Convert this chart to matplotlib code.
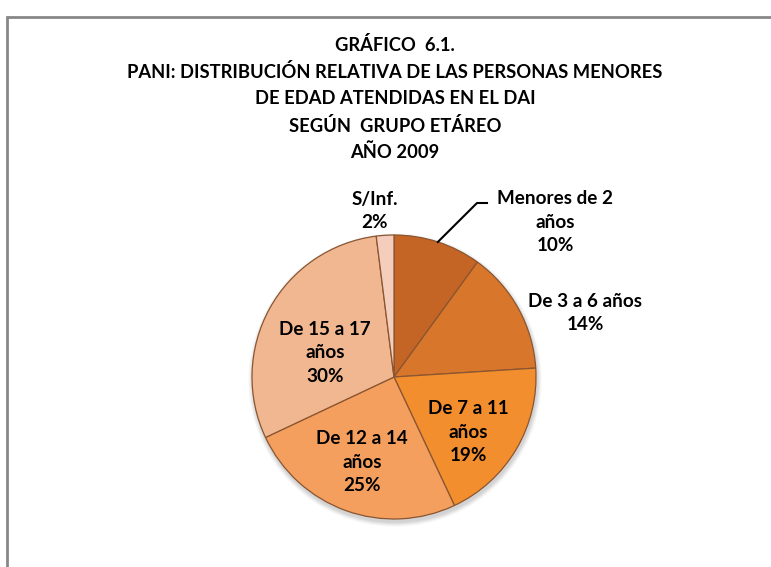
import numpy as np
import matplotlib
matplotlib.use("Agg")
import matplotlib.pyplot as plt
from matplotlib.patches import Rectangle, Circle

# ---- data ----
categories = ["Menores de 2\naños", "De 3 a 6 años", "De 7 a 11\naños",
              "De 12 a 14\naños", "De 15 a 17\naños", "S/Inf."]
values = [10, 14, 19, 25, 30, 2]
colors = ["#C46526", "#D8772B", "#F38E2E", "#F49F5E", "#F1B791", "#F4CDBD"]
title_lines = ["GRÁFICO  6.1.",
               "PANI: DISTRIBUCIÓN RELATIVA DE LAS PERSONAS MENORES",
               "DE EDAD ATENDIDAS EN EL DAI",
               "SEGÚN  GRUPO ETÁREO",
               "AÑO 2009"]

# ---- layout (pixel coordinates, y measured from top) ----
W, H = 771, 567
cx, cy, R = 394, 377, 142
label_pos = [(555, 222), (585, 313), (468, 432), (362, 462), (325, 353), (375, 211)]
title_y = [45, 72, 99, 126, 152]

FONT = ["Lato", "DejaVu Sans"]
FS_T = 13.2
FS_L = 13.6

fig = plt.figure(figsize=(W / 100, H / 100), dpi=100)
ax = fig.add_axes([0, 0, 1, 1])

def Y(py):
    return H - py

# soft shadow under pie
for k, a in zip(range(6, 0, -1), [0.04, 0.05, 0.06, 0.07, 0.08, 0.09]):
    ax.add_patch(Circle((cx + 1, Y(cy) - 3), R + k * 0.8, color="#808080",
                        alpha=a, lw=0, zorder=0))

wedges, _ = ax.pie(values, colors=colors, startangle=90, counterclock=False,
                   center=(cx, Y(cy)), radius=R,
                   wedgeprops=dict(edgecolor="#8A5530", linewidth=0.9))
ax.set_xlim(0, W)
ax.set_ylim(0, H)
ax.set_aspect("equal")
ax.axis("off")

# frame
ax.add_patch(Rectangle((7, -10), W + 20, Y(17) + 10, fill=False,
                       edgecolor="#878787", linewidth=2, clip_on=False))

for ty, line in zip(title_y, title_lines):
    ax.text(395, Y(ty), line, ha="center", va="center", fontsize=FS_T,
            fontweight="bold", family=FONT, color="black")

total = sum(values)
for w, cat, v, (px, py) in zip(wedges, categories, values, label_pos):
    ax.text(px, Y(py), f"{cat}\n{round(100 * v / total)}%", ha="center",
            va="center", fontsize=FS_L, fontweight="bold", family=FONT,
            linespacing=1.45, color="black")

# leader line for first slice
w0 = wedges[0]
mid = np.deg2rad((w0.theta1 + w0.theta2) / 2)
sx, sy = cx + R * np.cos(mid), Y(cy) + R * np.sin(mid)
ax.plot([sx, 477, 487], [sy, Y(203), Y(203)], color="black", lw=1.5)

fig.savefig("out.png", dpi=100)
